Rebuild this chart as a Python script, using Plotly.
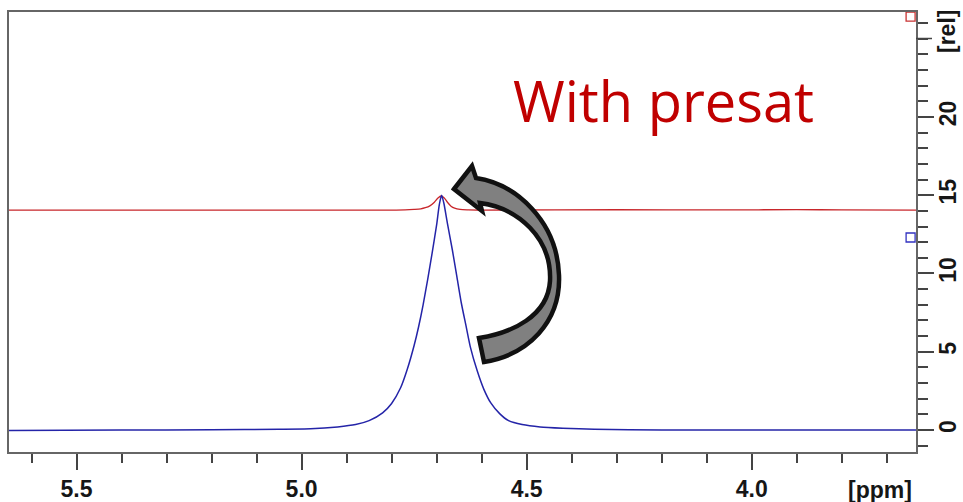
import plotly.graph_objects as go

# ---- data ----
blue_ppm = [5.65, 5.40, 5.20, 5.05, 4.98, 4.92, 4.88, 4.85, 4.82, 4.80, 4.78, 4.765, 4.75, 4.74,
            4.73, 4.72, 4.71, 4.70, 4.694, 4.689, 4.684, 4.676, 4.665, 4.655, 4.645, 4.635,
            4.625, 4.61, 4.595, 4.58, 4.56, 4.54, 4.51, 4.47, 4.42, 4.35, 4.20, 4.00, 3.635]
blue_int = [-0.02, 0.0, 0.02, 0.05, 0.08, 0.2, 0.35, 0.6, 1.1, 1.7, 2.7, 3.9, 5.4, 6.6,
            8.0, 9.6, 11.3, 13.1, 14.4, 15.0, 14.5, 13.2, 11.5, 9.8, 8.1, 6.7,
            5.3, 3.8, 2.6, 1.75, 1.05, 0.6, 0.35, 0.2, 0.12, 0.05, 0.01, 0.0, 0.0]

red_ppm = [5.65, 5.20, 4.80, 4.77, 4.75, 4.735, 4.725, 4.715, 4.705, 4.697, 4.690, 4.683, 4.676,
           4.668, 4.66, 4.648, 4.63, 4.60, 4.30, 4.05, 3.90, 3.80, 3.635]
red_int = [14.05, 14.05, 14.05, 14.06, 14.09, 14.13, 14.2, 14.32, 14.55, 14.82, 14.95, 14.82, 14.55,
           14.3, 14.17, 14.09, 14.06, 14.05, 14.07, 14.06, 14.08, 14.06, 14.05]

x_ticks = [5.5, 5.0, 4.5, 4.0]
x_tick_text = ["5.5", "5.0", "4.5", "4.0"]
y_ticks = [0, 5, 10, 15, 20]
y_tick_text = ["0", "5", "10", "15", "20"]

offset_marks_ppm = [3.647, 3.647]
offset_marks_int = [26.4, 12.3]
offset_marks_col = ["#c83232", "#3232c0"]

BLUE = "#2424a8"
RED = "#c8262b"

fig = go.Figure()
fig.add_trace(go.Scatter(x=red_ppm, y=red_int, mode="lines", line=dict(color=RED, width=1.3, shape="spline", smoothing=0.8),
                         hoverinfo="skip", showlegend=False))
fig.add_trace(go.Scatter(x=blue_ppm, y=blue_int, mode="lines", line=dict(color=BLUE, width=1.5, shape="spline", smoothing=0.6),
                         hoverinfo="skip", showlegend=False))
fig.add_trace(go.Scatter(x=offset_marks_ppm, y=offset_marks_int, mode="markers",
                         marker=dict(symbol="square-open", size=9, color=offset_marks_col, line=dict(width=1.3)),
                         hoverinfo="skip", showlegend=False, cliponaxis=False))

# pixel -> paper helper for decorations
X0, X1, YT, YB = 9.0, 916.0, 12.0, 452.0
def P(x, y):
    return (x - X0) / (X1 - X0), (YB - y) / (YB - YT)

def path(cmds):
    out = []
    for c in cmds:
        if isinstance(c, str):
            out.append(c)
        else:
            px, py = P(*c)
            out.append(f"{px:.5f},{py:.5f}")
    return " ".join(out)

arrow = path(["M", (454, 189), "L", (472, 166), "L", (476, 178),
              "C", (516, 184), (557, 221), (559, 275),
              "C", (561, 322), (528, 355), (484, 362),
              "L", (479, 338),
              "C", (512, 333), (548, 316), (550, 281),
              "C", (552, 238), (518, 208), (480, 203),
              "L", (482, 211), "Z"])

fig.add_shape(type="path", xref="paper", yref="paper", path=arrow,
              fillcolor="#808080", line=dict(color="#111111", width=4.5), layer="above")

tickfont = dict(family="Liberation Sans, Arial, sans-serif", size=23, color="#161616", weight="bold")

fig.update_layout(
    width=963, height=502,
    margin=dict(l=9, r=47, t=12, b=50),
    paper_bgcolor="white", plot_bgcolor="white",
    xaxis=dict(range=[5.65, 3.635], tickvals=x_ticks, ticktext=x_tick_text, automargin=False,
               ticks="outside", ticklen=16, tickwidth=1.5, tickcolor="#444",
               minor=dict(dtick=0.1, tick0=0, ticks="outside", ticklen=9, tickwidth=1.5, tickcolor="#444", showgrid=False),
               showgrid=False, zeroline=False, showline=True, linecolor="#666", linewidth=1.5, mirror=True,
               tickfont=tickfont),
    yaxis=dict(range=[-1.4, 26.7], side="right", tickvals=y_ticks, ticktext=y_tick_text, automargin=False,
               ticks="outside", ticklen=16, tickwidth=1.5, tickcolor="#444", tickangle=-90,
               ticklabelstandoff=-5,
               minor=dict(dtick=1, tick0=0, ticks="outside", ticklen=10, tickwidth=1.5, tickcolor="#444", showgrid=False),
               showgrid=False, zeroline=False, showline=True, linecolor="#666", linewidth=1.5, mirror=True,
               tickfont=tickfont),
)

ax, ay = P(880, 490)
fig.add_annotation(text="[ppm]", xref="paper", yref="paper", x=ax, y=ay, showarrow=False,
                   font=tickfont, xanchor="center", yanchor="middle")
rx, ry = P(947, 32)
fig.add_annotation(text="[rel]", xref="paper", yref="paper", x=rx, y=ry, showarrow=False,
                   font=tickfont, textangle=-90, xanchor="center", yanchor="middle")
fig.add_shape(type="line", xref="paper", yref="paper", x0=1, x1=P(932, 0)[0], y0=P(0, 38.5)[1], y1=P(0, 38.5)[1],
              line=dict(color="#444", width=1.5))

tx, ty = P(663, 100)
fig.add_annotation(text="With presat", xref="paper", yref="paper", x=tx, y=ty, showarrow=False,
                   font=dict(family="Open Sans, sans-serif", size=56, color="#c00000"),
                   xanchor="center", yanchor="middle")

fig.write_html("out.html")
